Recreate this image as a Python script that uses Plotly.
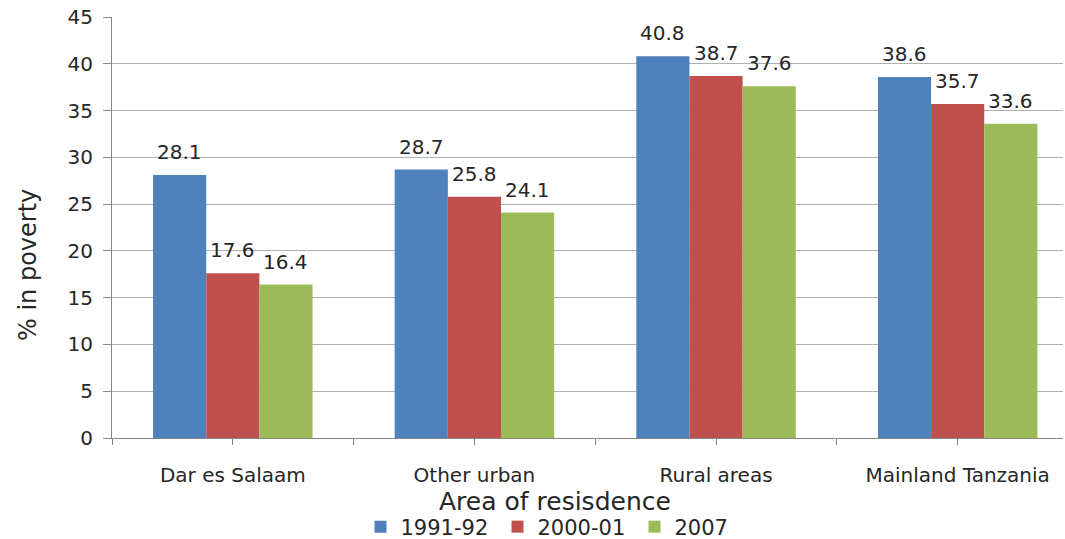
import plotly.graph_objects as go

areas = ["Dar es Salaam", "Other urban", "Rural areas", "Mainland Tanzania"]
series_names = ["1991-92", "2000-01", "2007"]
poverty_1991 = [28.1, 28.7, 40.8, 38.6]
poverty_2000 = [17.6, 25.8, 38.7, 35.7]
poverty_2007 = [16.4, 24.1, 37.6, 33.6]
colors = ["#4F81BD", "#C0504D", "#9BBB59"]

FONT = "DejaVu Sans"
TXT = "#262626"
W, H = 1065, 539
BAR_GAP = 0.34
all_series = [poverty_1991, poverty_2000, poverty_2007]

x_pos = list(range(len(areas)))
fig = go.Figure()
for name, vals, col in zip(series_names, all_series, colors):
    fig.add_trace(go.Bar(
        x=x_pos, y=vals, name=name, marker=dict(color=col, line=dict(width=0)),
    ))

# value labels above each bar
bar_w = (1 - BAR_GAP) / len(all_series)
annotations = []
for k, vals in enumerate(all_series):
    off = (k - (len(all_series) - 1) / 2) * bar_w
    for i, v in enumerate(vals):
        annotations.append(dict(
            x=i + off, y=v, xref="x", yref="y", text=f"{v:.1f}", showarrow=False,
            xanchor="center", yanchor="bottom", yshift=9,
            font=dict(family=FONT, size=20, color=TXT)))

# ticks at category centres and boundaries; labels only at centres
tickvals = []
ticktext = []
for i, a in enumerate(areas):
    tickvals += [i - 0.5, i]
    ticktext += ["", a]
tickvals.append(len(areas) - 0.5)
ticktext.append("")

annotations += [
    dict(text="Area of resisdence", x=555 / W, xref="paper", y=(H - 501) / H, yref="paper",
         xanchor="center", yanchor="middle",
         showarrow=False, font=dict(family=FONT, size=25, color=TXT)),
    dict(text="% in poverty", textangle=-90, x=28 / W, xref="paper", y=(H - 265) / H,
         yref="paper", xanchor="center", yanchor="middle",
         showarrow=False, font=dict(family=FONT, size=24, color=TXT)),
]

fig.update_layout(
    width=W, height=H,
    margin=dict(l=0, r=0, t=0, b=0, autoexpand=False),
    paper_bgcolor="white", plot_bgcolor="white",
    barmode="group", bargap=BAR_GAP, bargroupgap=0,
    font=dict(family=FONT, size=18, color=TXT),
    showlegend=True,
    legend=dict(orientation="h", x=566 / W, xanchor="center", y=(H - 527) / H,
                yanchor="middle", font=dict(family=FONT, size=21, color=TXT),
                tracegroupgap=0, entrywidth=92, entrywidthmode="pixels"),
    xaxis=dict(domain=[112 / W, 1063 / W], range=[-0.5, 3.436], tickmode="array",
               tickvals=tickvals, ticktext=ticktext,
               ticks="outside", ticklen=6, tickcolor="#868686", showgrid=False,
               showline=True, linecolor="#868686", linewidth=1,
               tickfont=dict(family=FONT, size=20, color=TXT), ticklabelstandoff=13,
               zeroline=False, automargin=False),
    yaxis=dict(domain=[(H - 438) / H, (H - 17) / H], range=[0, 45], dtick=5,
               ticks="outside", ticklen=8, tickcolor="#868686",
               showgrid=True, gridcolor="#B0B0B0", gridwidth=1,
               showline=True, linecolor="#868686", linewidth=1,
               tickfont=dict(family=FONT, size=20, color=TXT), ticklabelstandoff=6,
               zeroline=False, automargin=False),
    annotations=annotations,
)

fig.write_html("out.html")
